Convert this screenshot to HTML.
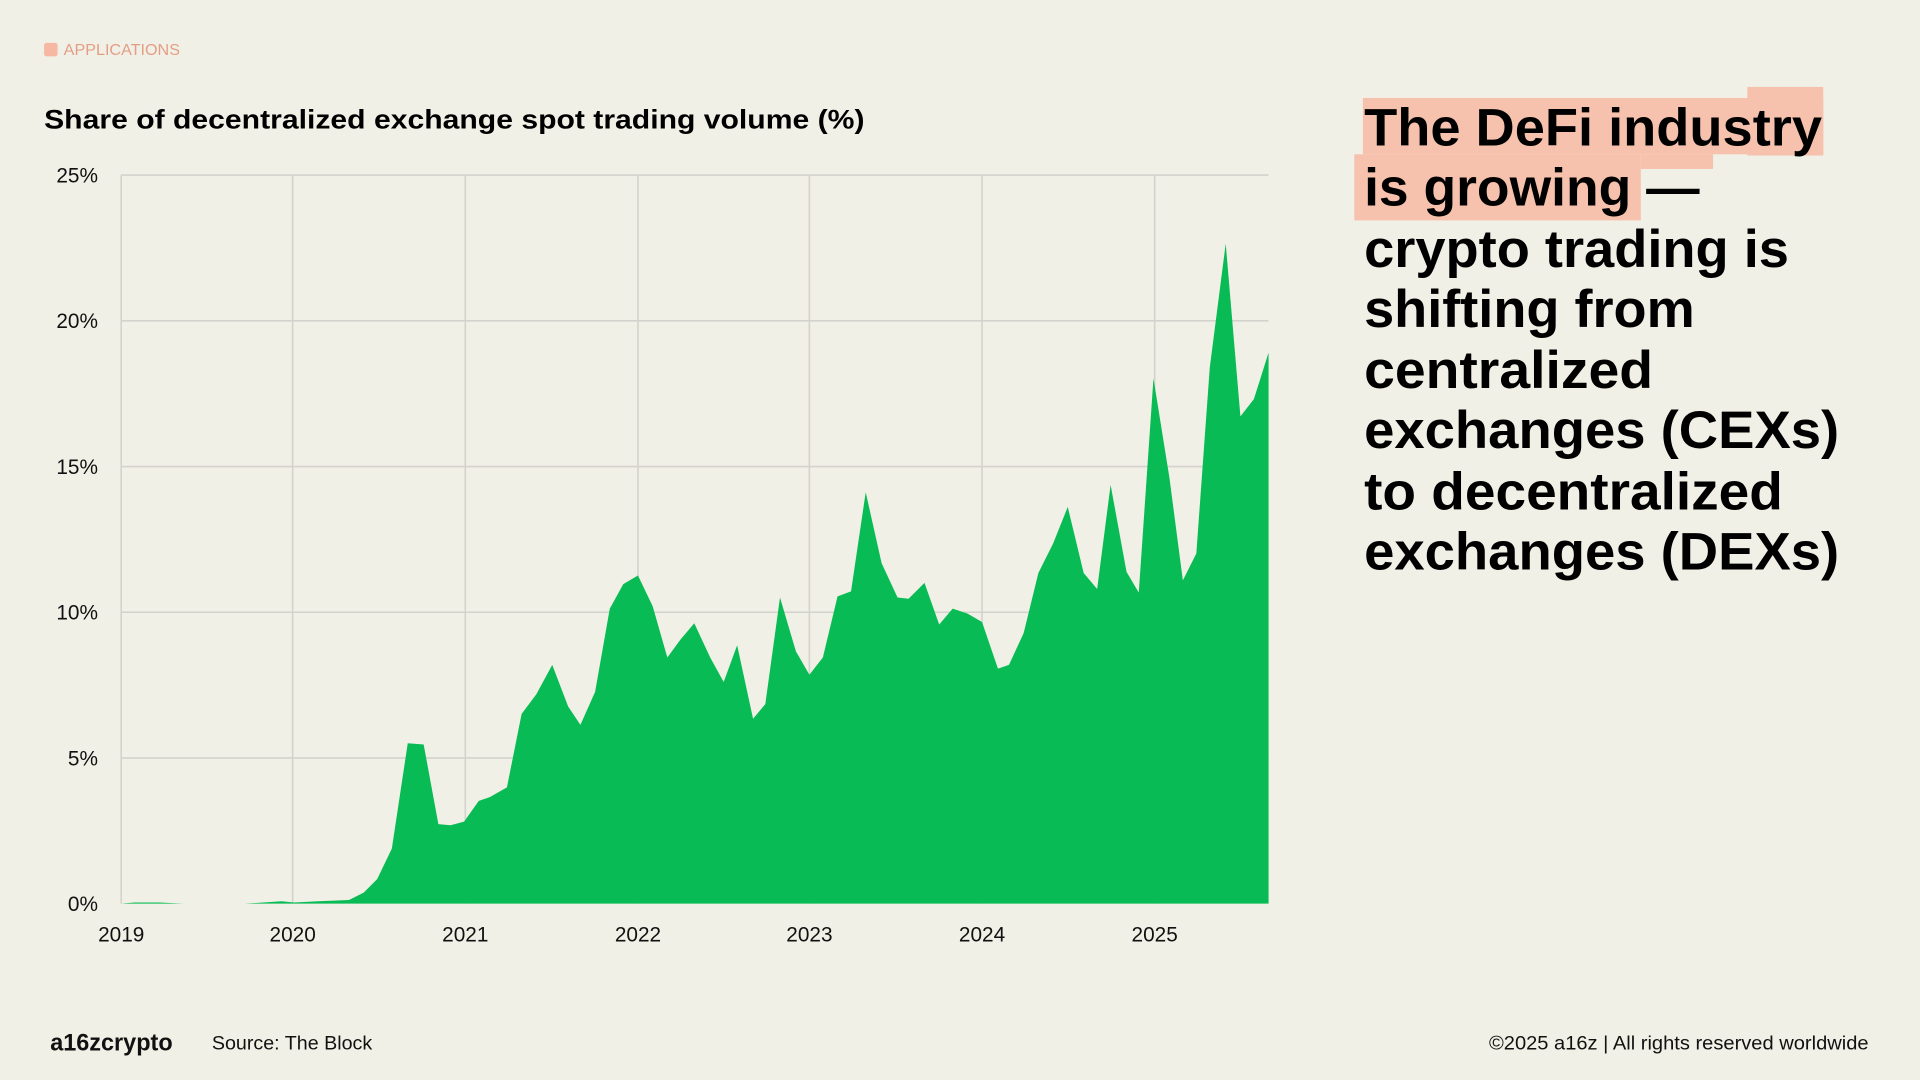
<!DOCTYPE html>
<html><head><meta charset="utf-8"><style>
html,body{margin:0;padding:0;background:#f1f0e6;}
svg{display:block;}
</style></head><body>
<svg width="1920" height="1080" viewBox="0 0 1568 882" xmlns="http://www.w3.org/2000/svg" font-family="Liberation Sans, sans-serif">
<rect width="1568" height="882" fill="#f1f0e6"/>
<rect x="36" y="35" width="11" height="11" rx="2" fill="#f6b8a2"/>
<text x="52" y="45" font-size="13" fill="#e49e86" textLength="95" lengthAdjust="spacingAndGlyphs">APPLICATIONS</text>
<text x="36" y="105" font-size="22" font-weight="bold" fill="#000" textLength="670" lengthAdjust="spacingAndGlyphs">Share of decentralized exchange spot trading volume (%)</text>
<g stroke="#d3d2cc" stroke-width="1.3">
<line x1="99" y1="143" x2="1036" y2="143"/><line x1="99" y1="262" x2="1036" y2="262"/><line x1="99" y1="381" x2="1036" y2="381"/><line x1="99" y1="500" x2="1036" y2="500"/><line x1="99" y1="619" x2="1036" y2="619"/>
<line x1="99" y1="143" x2="99" y2="738"/><line x1="239" y1="143" x2="239" y2="738"/><line x1="380" y1="143" x2="380" y2="738"/><line x1="521" y1="143" x2="521" y2="738"/><line x1="661" y1="143" x2="661" y2="738"/><line x1="802" y1="143" x2="802" y2="738"/><line x1="943" y1="143" x2="943" y2="738"/>
</g>
<polygon fill="#08bb54" points="99,738 110,737 130,737 150,738 200,738 230,736 240,737 260,736 285,735 297,729 308,718 320,693 333,607 346,608 358,673 368,674 379,671 391,654 400,651 414,643 426,583 438,567 451,543 464,577 474,592 486,565 498,497 509,477 521,470 533,495 545,537 556,522 567,509 580,537 591,557 602,527 615,587 625,575 637,488 650,532 661,551 672,537 684,487 695,483 707,402 720,460 733,488 742,489 755,476 767,510 778,497 790,501 802,508 815,546 824,543 836,517 848,468 860,444 872,414 885,468 896,481 907,396 920,467 930,484 942,309 955,390 966,474 977,452 988,300 1001,199 1013,340 1024,326 1036,288 1036,738"/>
<g font-size="17" fill="#111" text-anchor="end">
<text x="80" y="149">25%</text><text x="80" y="268">20%</text><text x="80" y="387">15%</text><text x="80" y="506">10%</text><text x="80" y="625">5%</text><text x="80" y="744">0%</text>
</g>
<g font-size="17" fill="#111" text-anchor="middle">
<text x="99" y="769">2019</text><text x="239" y="769">2020</text><text x="380" y="769">2021</text><text x="521" y="769">2022</text><text x="661" y="769">2023</text><text x="802" y="769">2024</text><text x="943" y="769">2025</text>
</g>
<g fill="#f6c2ad">
<rect x="1113" y="80" width="376" height="46"/>
<rect x="1427" y="71" width="62" height="56"/>
<rect x="1106" y="126" width="234" height="54"/>
<rect x="1340" y="126" width="59" height="12"/>
</g>
<g font-size="43" font-weight="bold" fill="#000" lengthAdjust="spacingAndGlyphs">
<text x="1114" y="119" textLength="374" lengthAdjust="spacingAndGlyphs">The DeFi industry</text>
<text x="1114" y="168" textLength="274" lengthAdjust="spacingAndGlyphs">is growing —</text>
<text x="1114" y="218" textLength="347" lengthAdjust="spacingAndGlyphs">crypto trading is</text>
<text x="1114" y="267" textLength="270" lengthAdjust="spacingAndGlyphs">shifting from</text>
<text x="1114" y="317" textLength="236" lengthAdjust="spacingAndGlyphs">centralized</text>
<text x="1114" y="366" textLength="388" lengthAdjust="spacingAndGlyphs">exchanges (CEXs)</text>
<text x="1114" y="416" textLength="342" lengthAdjust="spacingAndGlyphs">to decentralized</text>
<text x="1114" y="465" textLength="388" lengthAdjust="spacingAndGlyphs">exchanges (DEXs)</text>
</g>
<text x="41" y="858" font-size="20" font-weight="bold" fill="#111" textLength="100" lengthAdjust="spacingAndGlyphs">a16zcrypto</text>
<text x="173" y="857" font-size="16" fill="#111" textLength="131" lengthAdjust="spacingAndGlyphs">Source: The Block</text>
<text x="1526" y="857" font-size="16" fill="#111" text-anchor="end" textLength="310" lengthAdjust="spacingAndGlyphs">©2025 a16z | All rights reserved worldwide</text>
</svg>
</body></html>
